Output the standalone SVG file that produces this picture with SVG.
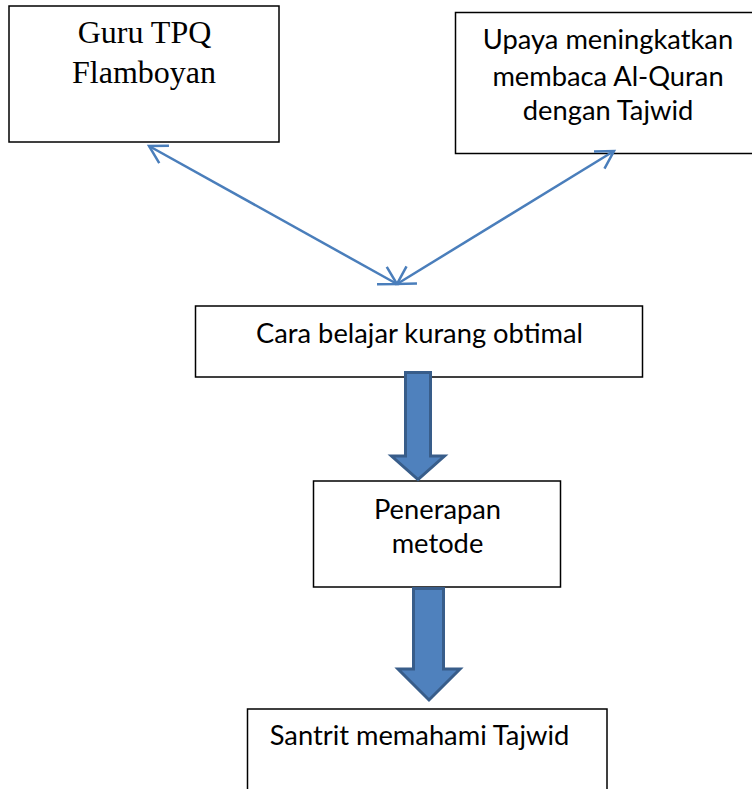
<svg xmlns="http://www.w3.org/2000/svg" width="752" height="789" viewBox="0 0 752 789">
<style>
.box{fill:#fff;stroke:#000;stroke-width:1.5}
.serif{font-family:"Liberation Serif","Times New Roman",serif;font-size:32px;fill:#000;text-anchor:middle}
.sans{font-family:Lato,"Open Sans",sans-serif;font-size:27.3px;fill:#000;text-anchor:middle}
.thin{fill:none;stroke:#4A7EBB;stroke-width:2.5;marker-start:url(#open);marker-end:url(#open)}
.block{fill:#4F81BD;stroke:#385D8A;stroke-width:3;stroke-linejoin:miter}
</style>
<defs>
<marker id="open" markerUnits="userSpaceOnUse" markerWidth="30" markerHeight="30" refX="0" refY="0" viewBox="-25 -15 30 30" orient="auto-start-reverse" overflow="visible">
<path d="M-17.3,-10 L0,0 L-17.3,10" fill="none" stroke="#4A7EBB" stroke-width="2.5" stroke-linecap="butt"/>
</marker>
</defs>
<rect width="752" height="789" fill="#fff"/>
<g id="guru">
<rect class="box" x="9" y="6" width="270" height="136"/>
<text class="serif" x="144.5" y="43">Guru TPQ</text>
<text class="serif" x="144" y="83">Flamboyan</text>
</g>
<g id="upaya">
<rect class="box" x="455.5" y="12.5" width="310" height="141"/>
<text class="sans" x="608" y="49">Upaya meningkatkan</text>
<text class="sans" x="608" y="86">membaca Al-Quran</text>
<text class="sans" x="608" y="120">dengan Tajwid</text>
</g>
<g id="cara">
<rect class="box" x="195.5" y="306" width="447" height="71"/>
<text class="sans" x="419.5" y="343">Cara belajar kurang obtimal</text>
</g>
<g id="penerapan">
<rect class="box" x="313.5" y="481" width="247" height="106"/>
<text class="sans" x="437.5" y="519">Penerapan</text>
<text class="sans" x="437.5" y="553">metode</text>
</g>
<g id="santrit">
<rect class="box" x="247.5" y="709" width="359.5" height="100"/>
<text class="sans" x="419.5" y="745">Santrit memahami Tajwid</text>
</g>
<g id="connectors">
<line class="thin" x1="149" y1="146" x2="397" y2="284"/>
<line class="thin" x1="614" y1="151" x2="397" y2="284"/>
<path class="block" d="M405.5,372.5 H430.5 V456 H444.5 L418,479.5 L391.5,456 H405.5 Z"/>
<path class="block" d="M413.5,588.5 H443.5 V669 H460 L429,700 L398,669 H413.5 Z"/>
</g>
</svg>
